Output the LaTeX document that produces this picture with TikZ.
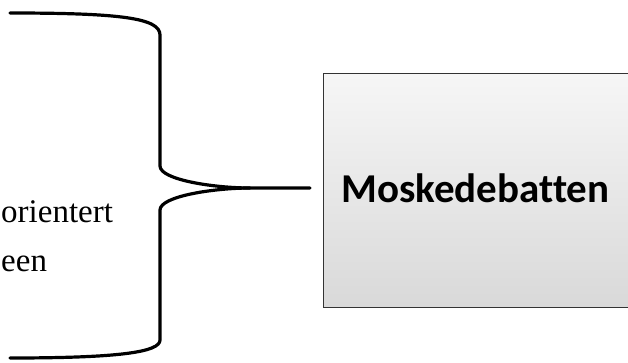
\documentclass[tikz,border=0pt]{standalone}
\usepackage{fontspec}
\setmainfont{Liberation Serif}
\newfontfamily\boxfont[Ligatures=NoCommon]{Carlito}
\begin{document}
\begin{tikzpicture}[x=1pt,y=-1pt,
  bracestyle/.style={line width=3.2pt, line cap=round, line join=round},
  mainbox/.style={draw=black!80, line width=1.3pt, top color=gray!7, bottom color=gray!30,
    minimum width=310pt, minimum height=234pt, anchor=north west, inner sep=0pt},
  lefttext/.style={anchor=base west, inner sep=0pt, font=\fontsize{33}{38}\selectfont}]
\useasboundingbox (0,0) rectangle (628,362);
\node[mainbox] (box) at (323,73) {};
\node[font=\boxfont\bfseries\fontsize{41}{46}\selectfont, anchor=base] (title) at (475.5,202) {Moskedebatten};
\node[lefttext] (t1) at (1,222) {orientert};
\node[lefttext] (t2) at (1,271) {een};
\coordinate (tip) at (250,188);
\coordinate (tipend) at (310,188);
\draw[bracestyle] (10,13) .. controls (120,13) and (160,18) .. (160,35) -- (160,166)
  .. controls (160,180) and (215,188) .. (tip) -- (tipend);
\draw[bracestyle] (tip) .. controls (215,188) and (160,196) .. (160,210) -- (160,340)
  .. controls (160,352) and (120,358) .. (10,358);
\end{tikzpicture}
\end{document}
